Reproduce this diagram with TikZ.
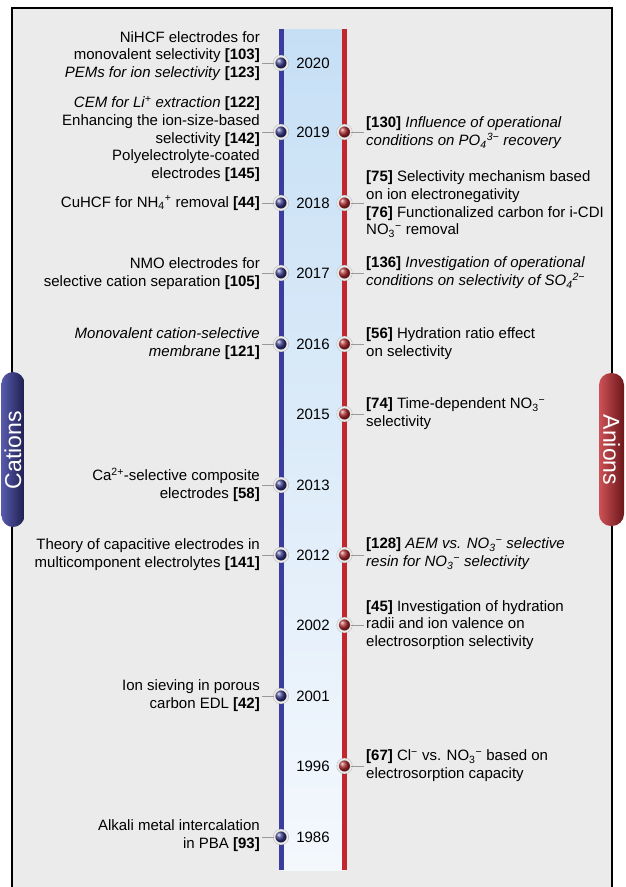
\documentclass[tikz,border=0pt]{standalone}
\usepackage{fontspec}
\setmainfont{Liberation Sans}
\usepackage{tikz}

\definecolor{framebg}{HTML}{EBEBEB}
\definecolor{catblue}{HTML}{3A3D9E}
\definecolor{anred}{HTML}{C1272D}
\definecolor{bandtop}{HTML}{C6DFF5}
\definecolor{bandbot}{HTML}{F4F8FD}
\definecolor{linkgray}{HTML}{999999}

\newcommand{\refno}[1]{\textbf{[#1]}}
\newcommand{\ionsub}[2]{\textsubscript{#1}\textsuperscript{#2}}

\tikzset{
	catdot/.style={circle, inner sep=0pt, minimum size=13.5pt, shading=ball, ball color=catblue!80!black,
		draw=gray!65, line width=0.4pt, double=gray!15, double distance=1.6pt},
	andot/.style={catdot, ball color=anred!85!black},
	lefttext/.style={anchor=east, align=right, inner sep=2pt},
	righttext/.style={anchor=west, align=left, inner sep=2pt},
	link/.style={draw=linkgray, line width=0.6pt},
}

\begin{document}
\begin{tikzpicture}[x=1pt, y=-1pt, font=\fontsize{15}{17.8}\selectfont]
	\useasboundingbox (0,0) rectangle (625,887);
	% frame
	\fill[framebg] (12,8) rectangle (612,887);
	\draw[line width=1.4pt] (12,887) -- (12,8) -- (612,8) -- (612,887);
	% time band
	\shade[top color=bandtop, bottom color=bandbot] (281,29) rectangle (344.5,870);
	\draw[catblue, line width=5pt] (281,29) -- (281,870);
	\draw[anred, line width=5pt] (344.5,29) -- (344.5,870);
	% years
	\foreach \yr/\y in {2020/63, 2019/132, 2018/203, 2017/273, 2016/344, 2015/414,
		2013/485, 2012/555, 2002/625, 2001/696, 1996/766, 1986/837}
		\node (y\yr) at (313,\y) {\yr};
	% cation side
	\node[lefttext] (tc2020) at (262,56) {NiHCF electrodes for\\monovalent selectivity \refno{103}\\\textit{PEMs for ion selectivity} \refno{123}};
	\node[lefttext] (tc2019) at (262,139) {\textit{CEM for Li\textsuperscript{+} extraction} \refno{122}\\Enhancing the ion-size-based\\selectivity \refno{142}\\Polyelectrolyte-coated\\electrodes \refno{145}};
	\node[lefttext] (tc2018) at (262,203) {CuHCF for NH\ionsub{4}{+} removal \refno{44}};
	\node[lefttext] (tc2017) at (262,273.5) {NMO electrodes for\\selective cation separation \refno{105}};
	\node[lefttext] (tc2016) at (262,343.5) {\textit{Monovalent cation-selective}\\\textit{membrane} \refno{121}};
	\node[lefttext] (tc2013) at (262,485) {Ca\textsuperscript{2+}-selective composite\\electrodes \refno{58}};
	\node[lefttext] (tc2012) at (262,555) {Theory of capacitive electrodes in\\multicomponent electrolytes \refno{141}};
	\node[lefttext] (tc2001) at (262,696) {Ion sieving in porous\\carbon EDL \refno{42}};
	\node[lefttext] (tc1986) at (262,836) {Alkali metal intercalation\\in PBA \refno{93}};
	\foreach \yr in {2020,2019,2018,2017,2016,2013,2012,2001,1986} {
		\node[catdot] (c\yr) at (281,0 |- y\yr) {};
		\draw[link] (c\yr.west) -- (c\yr.west -| tc\yr.east);
	}
	% anion side
	\node[righttext] (ta2019) at (364,133) {\refno{130} \textit{Influence of operational}\\\textit{conditions on PO\ionsub{4}{3−} recovery}};
	\node[righttext] (ta2018) at (364,204) {\refno{75} Selectivity mechanism based\\on ion electronegativity\\\refno{76} Functionalized carbon for i-CDI\\NO\ionsub{3}{−} removal};
	\node[righttext] (ta2017) at (364,273) {\refno{136} \textit{Investigation of operational}\\\textit{conditions on selectivity of SO\ionsub{4}{2−}}};
	\node[righttext] (ta2016) at (364,343.5) {\refno{56} Hydration ratio effect\\on selectivity};
	\node[righttext] (ta2015) at (364,414) {\refno{74} Time-dependent NO\ionsub{3}{−}\\selectivity};
	\node[righttext] (ta2012) at (364,554) {\refno{128} \textit{AEM vs. NO\ionsub{3}{−} selective}\\\textit{resin for NO\ionsub{3}{−} selectivity}};
	\node[righttext] (ta2002) at (364,625) {\refno{45} Investigation of hydration\\radii and ion valence on\\electrosorption selectivity};
	\node[righttext] (ta1996) at (364,766) {\refno{67} Cl\textsuperscript{−} vs. NO\ionsub{3}{−} based on\\electrosorption capacity};
	\foreach \yr in {2019,2018,2017,2016,2015,2012,2002,1996} {
		\node[andot] (a\yr) at (344.5,0 |- y\yr) {};
		\draw[link] (a\yr.east) -- (a\yr.east -| ta\yr.west);
	}
	% side tabs
	\shade[left color=catblue!85!white, right color=catblue!50!black, rounded corners=11.5pt] (1.5,372) rectangle (24.5,527);
	\node[rotate=90, white, font=\fontsize{23}{23}\selectfont] (cations) at (13,450) {Cations};
	\shade[left color=anred!80!white, right color=anred!55!black, rounded corners=12pt] (599,373) rectangle (624,526);
	\node[rotate=-90, white, font=\fontsize{23}{23}\selectfont] (anions) at (611.5,450) {Anions};
\end{tikzpicture}
\end{document}
